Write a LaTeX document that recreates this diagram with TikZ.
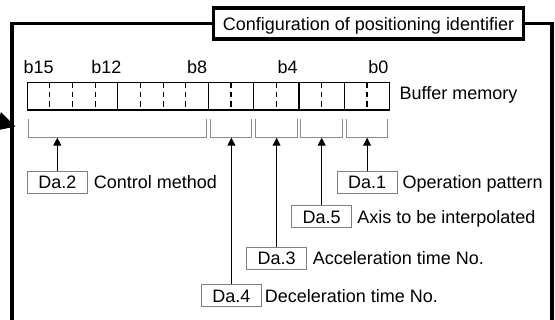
\documentclass[tikz,border=0pt]{standalone}
\usepackage{fontspec}
\setmainfont{Liberation Sans}
\usetikzlibrary{arrows.meta}
\begin{document}
\begin{tikzpicture}[x=1pt,y=-1pt,
  every node/.style={font=\fontsize{18pt}{21pt}\selectfont, inner sep=0pt},
  titlebox/.style={draw, line width=3.4pt, minimum width=309.5pt, text height=22.5pt, text depth=8.5pt},
  frameline/.style={line width=3.2pt, line join=miter},
  dabox/.style={draw=black!50, line width=0.9pt, minimum width=60pt, text height=17.8pt, text depth=4.2pt},
  regbox/.style={draw, line width=1.3pt, minimum width=362.4pt, minimum height=27.7pt, outer sep=0pt},
  bracket/.style={draw=black!45, line width=0.9pt},
  uparrow/.style={line width=0.9pt, -{Triangle[length=8pt,width=8pt]}},
  soliddiv/.style={line width=1.2pt},
  dashdiv/.style={line width=1.2pt, dash pattern=on 5.5pt off 4pt},
]
\useasboundingbox (0,0) rectangle (555,320);

% title and frame
\node[titlebox, anchor=base] (title) at (368.5,30.5) {Configuration of positioning identifier};
\draw[frameline] (title.west) -- (12,23.5) -- (12,330);
\draw[frameline] (title.east) -- (552,23.5) -- (552,330);

% incoming arrow at the left
\coordinate (lin) at (-10,119);
\coordinate (ltip) at (15.5,126.5);
\draw[line width=1pt, -{Triangle[length=18pt,width=19pt]}] (lin) -- (ltip);

% register
\node[regbox, anchor=north west] (reg) at (27.2,82.3) {};
\foreach \i in {4,8,10,12,14}
  \draw[soliddiv] ([xshift=\i*22.65pt]reg.north west) -- ([xshift=\i*22.65pt]reg.south west);
\foreach \i in {1,2,3,5,6,7,9,11,13,15}
  \draw[dashdiv] ([xshift=\i*22.65pt]reg.north west) -- ([xshift=\i*22.65pt]reg.south west);

% bit labels
\foreach \n/\k in {b15/0, b12/3, b8/7, b4/11, b0/15}
  \node[anchor=base] (lbl\n) at (27.2+22.65*\k+11.33,74) {\n};
\node[anchor=base west] (bufmem) at (399.5,100) {Buffer memory};

% brackets
\foreach \a/\b in {28.8/206.5, 210.1/251.8, 255.4/297.2, 300.7/342.5, 346/387.8}
  \draw[bracket] (\a,119) -- (\a,137.7) -- (\b,137.7) -- (\b,119);

% arrow targets on brackets
\coordinate (t2) at (57.3,137.7);
\coordinate (t4) at (231.4,137.7);
\coordinate (t3) at (276.6,137.7);
\coordinate (t5) at (321.7,137.7);
\coordinate (t1) at (367.1,137.7);

% Da boxes
\node[dabox, anchor=base] (da2) at (57.3,189) {Da.2};
\node[dabox, anchor=base] (da1) at (367.1,189) {Da.1};
\node[dabox, anchor=base] (da5) at (321.7,223.3) {Da.5};
\node[dabox, anchor=base] (da3) at (276.6,265) {Da.3};
\node[dabox, anchor=base] (da4) at (231.4,302.6) {Da.4};

% descriptions
\node[anchor=base west] (cm) at ([xshift=6pt]da2.base east) {Control method};
\node[anchor=base west] (op) at ([xshift=4.8pt]da1.base east) {Operation pattern};
\node[anchor=base west] (ax) at ([xshift=5pt]da5.base east) {Axis to be interpolated};
\node[anchor=base west] (ac) at ([xshift=5.5pt]da3.base east) {Acceleration time No.};
\node[anchor=base west] (de) at ([xshift=2.8pt]da4.base east) {Deceleration time No.};

% arrows
\draw[uparrow] (da2.north) -- (t2);
\draw[uparrow] (da1.north) -- (t1);
\draw[uparrow] (da5.north) -- (t5);
\draw[uparrow] (da3.north) -- (t3);
\draw[uparrow] (da4.north) -- (t4);
\end{tikzpicture}
\end{document}
